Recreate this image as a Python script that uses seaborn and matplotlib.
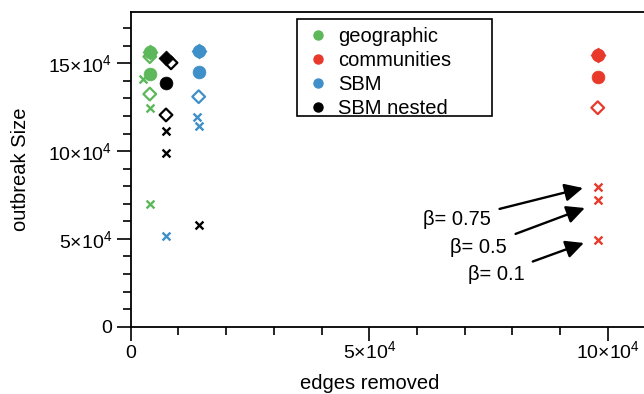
import pandas as pd
import matplotlib
matplotlib.use('Agg')
import matplotlib.pyplot as plt
import seaborn as sns
from matplotlib.lines import Line2D
from matplotlib.patches import ArrowStyle, Rectangle
from matplotlib.ticker import MultipleLocator, FixedLocator, FuncFormatter

# ========== Dati ==========

networks = ['geographic', 'communities', 'SBM', 'SBM nested']
colori = {'geographic': '#5cb85a', 'communities': '#e8392b',
          'SBM': '#3f8fc8', 'SBM nested': '#000000'}

# un elemento per punto: rete, tipo di marker, archi rimossi, dimensione epidemia
punto_rete = ['geographic'] * 8 + ['SBM nested'] * 7 + ['SBM'] * 7 + ['communities'] * 7
punto_tipo = ['circle', 'diamond', 'open', 'circle', 'cross', 'open', 'cross', 'cross',
              'diamond', 'open', 'circle', 'open', 'cross', 'cross', 'cross',
              'circle', 'diamond', 'circle', 'open', 'cross', 'cross', 'cross',
              'circle', 'diamond', 'circle', 'open', 'cross', 'cross', 'cross']
archi_rimossi = [4000, 4000, 4000, 4000, 2600, 4000, 4000, 4000,
                 7400, 8450, 7400, 7400, 7400, 7400, 14250,
                 14250, 14250, 14250, 14250, 13900, 14250, 7400,
                 97900, 97900, 97900, 97900, 97900, 97900, 97900]
dimensione = [156600, 156600, 153800, 143700, 141000, 132500, 124400, 69900,
              152800, 150300, 138600, 120600, 111600, 98800, 57900,
              157200, 157200, 144900, 131000, 119300, 114300, 51700,
              154700, 154700, 142000, 124700, 79400, 72200, 49400]

beta_etichette = ['β= 0.75', 'β= 0.5', 'β= 0.1']
beta_punta = [(94800, 79000), (95200, 67600), (95000, 47700)]
beta_testo = [(75500, 61000), (78900, 45000), (82500, 29500)]

# ========== Stile ==========

sns.set_style('ticks')
plt.rcParams['font.family'] = ['Liberation Sans', 'DejaVu Sans']
plt.rcParams['mathtext.fontset'] = 'custom'
plt.rcParams['mathtext.rm'] = 'Liberation Sans'
plt.rcParams['mathtext.it'] = 'Liberation Sans'
plt.rcParams['mathtext.default'] = 'regular'
for chiave in ['text.color', 'axes.labelcolor', 'xtick.color', 'ytick.color']:
    plt.rcParams[chiave] = 'black'

stili = {
    'circle': dict(marker='o', s=85),
    'diamond': dict(marker='D', s=58),
    'open': dict(marker='D', s=42),
    'cross': dict(marker='x', s=32),
}


def etichetta_potenza(v, pos):
    if v == 0:
        return '0'
    return f'{int(round(v / 1e4))}×10$^{{4}}$'


def main():
    df = pd.DataFrame({'rete': punto_rete, 'tipo': punto_tipo,
                       'x': archi_rimossi, 'y': dimensione})

    fig = plt.figure(figsize=(6.44, 3.94), dpi=100)
    ax = fig.add_axes([130.7 / 644, (394 - 326.7) / 394, (644 - 130.7) / 644, 315 / 394])

    for tipo in ['circle', 'diamond', 'open', 'cross']:
        st = stili[tipo]
        for rete in networks:
            sub = df[(df['tipo'] == tipo) & (df['rete'] == rete)]
            if sub.empty:
                continue
            col = colori[rete]
            if tipo == 'open':
                sns.scatterplot(data=sub, x='x', y='y', marker=st['marker'], s=st['s'],
                                color=col, facecolor='none', edgecolor=col,
                                linewidth=1.6, legend=False, ax=ax, zorder=3)
            elif tipo == 'cross':
                sns.scatterplot(data=sub, x='x', y='y', marker=st['marker'], s=st['s'],
                                color=col, edgecolor=col, linewidth=1.7,
                                legend=False, ax=ax, zorder=3)
            else:
                sns.scatterplot(data=sub, x='x', y='y', marker=st['marker'], s=st['s'],
                                color=col, edgecolor=col, linewidth=0.5,
                                legend=False, ax=ax, zorder=3)

    ax.set_xlim(0, 107600)
    ax.set_ylim(0, 179400)

    ax.xaxis.set_major_locator(FixedLocator([0, 50000, 100000]))
    ax.xaxis.set_minor_locator(MultipleLocator(10000))
    ax.yaxis.set_major_locator(FixedLocator([0, 50000, 100000, 150000]))
    ax.yaxis.set_minor_locator(MultipleLocator(10000))
    ax.xaxis.set_major_formatter(FuncFormatter(etichetta_potenza))
    ax.yaxis.set_major_formatter(FuncFormatter(etichetta_potenza))

    ax.tick_params(which='major', length=10, width=1.2, labelsize=14, color='k',
                   labelcolor='k')
    ax.tick_params(which='minor', length=5.5, width=1.2, color='k')
    ax.tick_params(axis='x', which='major', pad=12.5)
    for lab in ax.get_xticklabels():
        lab.set_verticalalignment('baseline')

    for lato in ['left', 'bottom', 'top']:
        ax.spines[lato].set_linewidth(1.3)
        ax.spines[lato].set_color('k')
    ax.spines['right'].set_visible(False)

    ax.set_xlabel('edges removed', fontsize=14.5, color='k')
    ax.set_ylabel('outbreak Size', fontsize=14.5, color='k')
    ax.xaxis.set_label_coords(0.466, -0.15)
    ax.yaxis.set_label_coords(-0.196, 0.5)

    stile_freccia = ArrowStyle('-|>', head_length=0.55, head_width=0.27)
    for testo, punta, pos in zip(beta_etichette, beta_punta, beta_testo):
        ax.annotate(testo, xy=punta, xytext=pos, fontsize=14.5, color='k',
                    ha='right', va='center',
                    arrowprops=dict(arrowstyle=stile_freccia, color='k', lw=1.7,
                                    mutation_scale=20, shrinkA=4, shrinkB=0))

    maniglie = [Line2D([], [], marker='o', linestyle='', markersize=6.5,
                       markerfacecolor=colori[r], markeredgecolor=colori[r], label=r)
                for r in networks]
    leg = ax.legend(handles=maniglie, loc='upper left', bbox_to_anchor=(0.3298, 0.971),
                    borderaxespad=0, fontsize=14.5, frameon=False,
                    handletextpad=0.4, labelspacing=0.25, borderpad=0.3, handlelength=1.2)
    for t in leg.get_texts():
        t.set_color('k')
    # cornice della legenda, piu larga del testo come nell'originale
    ax.add_patch(Rectangle((0.324, 0.669), 0.380, 0.308, transform=ax.transAxes,
                           fill=False, edgecolor='k', lw=1.2, zorder=5))

    fig.savefig('out.png', dpi=100)
    plt.close(fig)


if __name__ == '__main__':
    main()
